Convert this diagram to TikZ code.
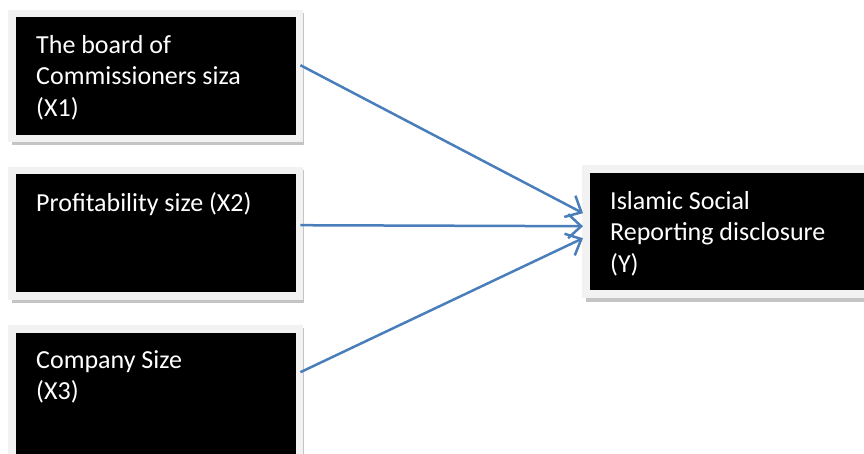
\documentclass[tikz,border=0pt]{standalone}
\usepackage{fontspec}
\setmainfont{Carlito}
\usetikzlibrary{arrows.meta,calc}
\definecolor{framegray}{HTML}{F2F2F2}
\definecolor{shadowgray}{HTML}{C4C4C4}
\definecolor{arrowblue}{HTML}{4A7EBB}
\begin{document}
\begin{tikzpicture}[x=1pt,y=-1pt,
  shadowbox/.style={fill=shadowgray,draw=none,inner sep=0pt,anchor=north west},
  framebox/.style={fill=framegray,draw=none,inner sep=0pt,anchor=north west},
  blackbox/.style={fill=black,draw=none,inner sep=0pt,anchor=north west},
  label/.style={text=white,inner sep=0pt,anchor=base west,align=left,
    font=\fontsize{26}{31.5}\selectfont},
  link/.style={draw=arrowblue,line width=2.5pt,
    -{Straight Barb[length=13pt,width=24pt,line width=2.5pt]}}]
\useasboundingbox (0,0) rectangle (864,453);
% box 1
\node[shadowbox,minimum width=292pt,minimum height=132pt] (h1) at (12,13) {};
\node[framebox,minimum width=295pt,minimum height=132pt] (f1) at (8,10) {};
\node[blackbox,minimum width=280pt,minimum height=118pt] (k1) at (16,17) {};
\node[label] (t1) at (36,116) {The board of\\Commissioners siza\\(X1)};
% box 2
\node[shadowbox,minimum width=292pt,minimum height=133pt] (h2) at (12,170) {};
\node[framebox,minimum width=295pt,minimum height=133pt] (f2) at (8,167) {};
\node[blackbox,minimum width=280pt,minimum height=118pt] (k2) at (16,174) {};
\node[label] (t2) at (36,211) {Profitability size (X2)};
% box 3
\node[shadowbox,minimum width=292pt,minimum height=140pt] (h3) at (12,328) {};
\node[framebox,minimum width=295pt,minimum height=140pt] (f3) at (8,325) {};
\node[blackbox,minimum width=280pt,minimum height=130pt] (k3) at (16,333) {};
\node[label] (t3) at (36,399.5) {Company Size\\(X3)};
% box Y
\node[shadowbox,minimum width=290pt,minimum height=133pt] (hy) at (586,169) {};
\node[framebox,minimum width=290pt,minimum height=133pt] (fy) at (582,165) {};
\node[blackbox,minimum width=280pt,minimum height=117pt] (ky) at (590,173) {};
\node[label] (ty) at (610,272) {Islamic Social\\Reporting disclosure\\(Y)};
% connector ends
\coordinate (s1) at ($(f1.east)+(-3,-11)$);
\coordinate (s2) at ($(f2.east)+(-3,-8.5)$);
\coordinate (s3) at ($(f3.east)+(-3,-23)$);
\coordinate (e1) at ($(fy.west)+(1,-18.5)$);
\coordinate (e2) at ($(fy.west)+(1,-5.5)$);
\coordinate (e3) at ($(fy.west)+(1,6.5)$);
\draw[link] (s1) -- (e1);
\draw[link] (s2) -- (e2);
\draw[link] (s3) -- (e3);
\end{tikzpicture}
\end{document}
